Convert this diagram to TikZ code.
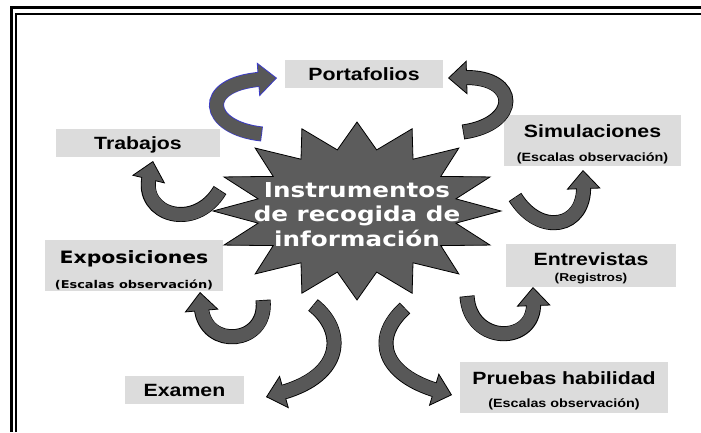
\documentclass[tikz,border=0pt]{standalone}
\usepackage{fontspec}
\usetikzlibrary{arrows.meta}
\newfontfamily\arialw{Liberation Sans}[FakeStretch=1.2]
\newfontfamily\verdw{DejaVu Sans}[FakeStretch=1.2]
\definecolor{boxgray}{HTML}{DCDCDC}
\definecolor{rgray}{HTML}{585858}
\definecolor{stargray}{HTML}{5C5C5C}
\definecolor{selblue}{HTML}{3C3CC8}
\tikzset{
  box/.style={fill=boxgray, draw=none, inner sep=0pt},
  btxt/.style={font={\arialw\bfseries\fontsize{17.8}{20}\selectfont}, inner sep=0pt, text height=12.7pt, text depth=0pt},
  bsub/.style={font={\arialw\bfseries\fontsize{12}{14}\selectfont}, inner sep=0pt, anchor=base},
  vtxt/.style={font={\verdw\bfseries\fontsize{17.1}{20}\selectfont}, inner sep=0pt, anchor=base},
  vsub/.style={font={\verdw\bfseries\fontsize{10.8}{13}\selectfont}, inner sep=0pt, anchor=base},
  ctext/.style={font={\verdw\bfseries\fontsize{20.6}{24.4}\selectfont}, text=white, align=center, inner sep=0pt},
  frameline/.style={draw=black}
}
\newcommand\ribbon[5]{%
  \draw[line width=15bp, #1, shorten >=16bp] (#2) .. controls (#3) and (#4) .. (#5);
  \draw[line width=0.6bp, rgray, -{Triangle[width=34bp,length=19bp,color=#1,fill=rgray,line width=0.8bp]}] (#2) .. controls (#3) and (#4) .. (#5);
  \draw[line width=13.4bp, rgray, shorten >=15bp, shorten <=0.8bp] (#2) .. controls (#3) and (#4) .. (#5);
}
\begin{document}
\begin{tikzpicture}[x=1bp, y=-1bp]
\path[use as bounding box, fill=white] (0,0) rectangle (701,432);
% frame (only left and top sides fall inside the picture)
\draw[frameline, line width=2.8bp] (11.6,432) -- (11.6,7.8) -- (701,7.8);
\draw[frameline, line width=2.1bp] (16,432) -- (16,13.8) -- (701,13.8);

% boxes
\node[box, minimum width=158bp, minimum height=28bp] (port) at (364,74) {};
\node[btxt] (portt) at (364,74) {Portafolios};
\node[box, minimum width=164bp, minimum height=28bp] (trab) at (138,143) {};
\node[btxt] (trabt) at (138,143) {Trabajos};
\node[box, minimum width=119bp, minimum height=28bp] (exam) at (184.5,390) {};
\node[btxt] (examt) at (184.5,390) {Examen};

\node[box, minimum width=177bp, minimum height=51bp] (simu) at (592.5,140.5) {};
\node[btxt, anchor=base] (simut) at (592.5,137) {Simulaciones};
\node[bsub] (simus) at (592.5,161.5) {(Escalas observación)};

\node[box, minimum width=178bp, minimum height=51bp] (expo) at (134,265.5) {};
\node[vtxt] (expot) at (134,263) {Exposiciones};
\node[vsub] (expos) at (134,288) {(Escalas observación)};

\node[box, minimum width=170bp, minimum height=43bp] (entr) at (591,265.5) {};
\node[btxt, anchor=base] (entrt) at (591,265) {Entrevistas};
\node[bsub, font={\arialw\bfseries\fontsize{11.5}{13}\selectfont}] (entrs) at (591,281) {(Registros)};

\node[box, minimum width=208bp, minimum height=51bp] (prue) at (564,387.5) {};
\node[btxt, anchor=base] (pruet) at (564,384) {Pruebas habilidad};
\node[bsub] (prues) at (564,407) {(Escalas observación)};

% star
\draw[fill=stargray, draw=black, line width=0.8bp]
  plot[samples at={0,...,32}, variable=\k]
  ({357+144*(1-0.3*mod(\k,2))*cos(\k*11.25)}, {211-89*(1-0.3*mod(\k,2))*sin(\k*11.25)}) -- cycle;
\node[ctext] (ctr) at (357,214.5) {Instrumentos\\de recogida de\\información};

% arrow end points
\coordinate (s1) at (262,134); \coordinate (e1) at (277,78);
\coordinate (s2) at (463,132); \coordinate (e2) at (448,78);
\coordinate (s3) at (220,190); \coordinate (e3) at (153,161);
\coordinate (s4) at (515,197); \coordinate (e4) at (583,170);
\coordinate (s5) at (263,300); \coordinate (e5) at (200,292);
\coordinate (s6) at (467,296); \coordinate (e6) at (533,287);
\coordinate (s7) at (313,305); \coordinate (e7) at (266,397);
\coordinate (s8) at (405,308); \coordinate (e8) at (452,395);

\ribbon{selblue}{s1}{205,128}{198,84}{e1}
\ribbon{black}{s2}{520,124}{520,76}{e2}
\ribbon{black}{s3}{195,232}{140,215}{e3}
\ribbon{black}{s4}{540,237}{585,228}{e4}
\ribbon{black}{s5}{268,345}{205,350}{e5}
\ribbon{black}{s6}{470,345}{535,345}{e6}
\ribbon{black}{s7}{345,330}{345,375}{e7}
\ribbon{black}{s8}{370,340}{385,375}{e8}
\end{tikzpicture}
\end{document}
